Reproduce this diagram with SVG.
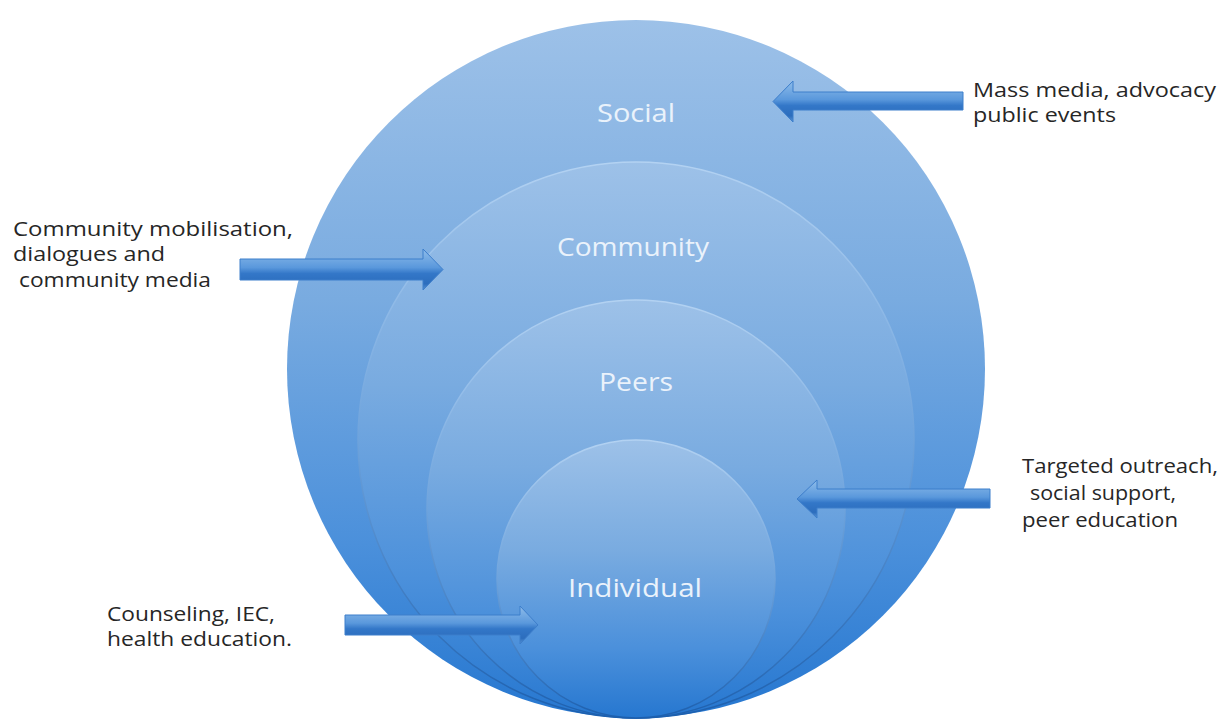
<svg xmlns="http://www.w3.org/2000/svg" width="1219" height="719" viewBox="0 0 1219 719">
  <defs>
    <linearGradient id="ringFill" x1="0" y1="0" x2="0" y2="1">
      <stop offset="0" stop-color="#9dc1e8"/>
      <stop offset="0.4" stop-color="#79abe0"/>
      <stop offset="0.75" stop-color="#4b90db"/>
      <stop offset="1" stop-color="#2677d0"/>
    </linearGradient>
    <linearGradient id="ringStroke" x1="0" y1="0" x2="0" y2="1">
      <stop offset="0" stop-color="#b3d2f2"/>
      <stop offset="0.5" stop-color="#6ea3dc"/>
      <stop offset="1" stop-color="#1c5fae"/>
    </linearGradient>
    <linearGradient id="arrowFill" x1="0" y1="0" x2="0" y2="1">
      <stop offset="0" stop-color="#8fbdea"/>
      <stop offset="0.45" stop-color="#5a98dc"/>
      <stop offset="0.6" stop-color="#3377c8"/>
      <stop offset="0.85" stop-color="#2c6dbd"/>
      <stop offset="1" stop-color="#5b96d6"/>
    </linearGradient>
    <style>
      .ring { fill: url(#ringFill); stroke: url(#ringStroke); stroke-width: 1.5; }
      .outer { fill: url(#ringFill); stroke: none; }
      .inlabel { font-family: "Open Sans", "Liberation Sans", sans-serif; font-size: 26px; fill: #eaf2fb; }
      .note { font-family: "Open Sans", "Liberation Sans", sans-serif; font-size: 20px; fill: #262626; }
      .arrow { fill: url(#arrowFill); stroke: #3d7ecb; stroke-width: 1; }
    </style>
  </defs>
  <rect x="0" y="0" width="1219" height="719" fill="#ffffff"/>

  <g id="node-social">
    <circle class="outer" cx="636" cy="369" r="349"/>
    <text class="inlabel" x="597" y="122" textLength="78" lengthAdjust="spacingAndGlyphs">Social</text>
  </g>
  <g id="node-community">
    <circle class="ring" cx="636" cy="440" r="278"/>
    <text class="inlabel" x="557" y="256" textLength="152" lengthAdjust="spacingAndGlyphs">Community</text>
  </g>
  <g id="node-peers">
    <circle class="ring" cx="636" cy="509" r="209"/>
    <text class="inlabel" x="599" y="391" textLength="74" lengthAdjust="spacingAndGlyphs">Peers</text>
  </g>
  <g id="node-individual">
    <circle class="ring" cx="636" cy="579" r="139"/>
    <text class="inlabel" x="568" y="597" textLength="134" lengthAdjust="spacingAndGlyphs">Individual</text>
  </g>

  <g id="connectors">
    <path class="arrow" d="M963,92 L793,92 L793,81 L773,101.5 L793,122 L793,110 L963,110 Z"/>
    <path class="arrow" d="M240,259 L423,259 L423,249 L443,269.5 L423,290 L423,280 L240,280 Z"/>
    <path class="arrow" d="M990,489 L817,489 L817,480 L797,499 L817,518 L817,508 L990,508 Z"/>
    <path class="arrow" d="M345,615 L520,615 L520,606 L538,625 L520,644 L520,635 L345,635 Z"/>
  </g>

  <g id="note-social">
    <text class="note" x="973" y="97" textLength="243" lengthAdjust="spacingAndGlyphs">Mass media, advocacy</text>
    <text class="note" x="973" y="122" textLength="143" lengthAdjust="spacingAndGlyphs">public events</text>
  </g>
  <g id="note-community">
    <text class="note" x="13" y="236" textLength="280" lengthAdjust="spacingAndGlyphs">Community mobilisation,</text>
    <text class="note" x="13" y="261" textLength="152" lengthAdjust="spacingAndGlyphs">dialogues and</text>
    <text class="note" x="19" y="287" textLength="192" lengthAdjust="spacingAndGlyphs">community media</text>
  </g>
  <g id="note-peers">
    <text class="note" x="1022" y="473" textLength="196" lengthAdjust="spacingAndGlyphs">Targeted outreach,</text>
    <text class="note" x="1030" y="500" textLength="146" lengthAdjust="spacingAndGlyphs">social support,</text>
    <text class="note" x="1022" y="527" textLength="156" lengthAdjust="spacingAndGlyphs">peer education</text>
  </g>
  <g id="note-individual">
    <text class="note" x="107" y="621" textLength="168" lengthAdjust="spacingAndGlyphs">Counseling, IEC,</text>
    <text class="note" x="107" y="646" textLength="185" lengthAdjust="spacingAndGlyphs">health education.</text>
  </g>
</svg>
